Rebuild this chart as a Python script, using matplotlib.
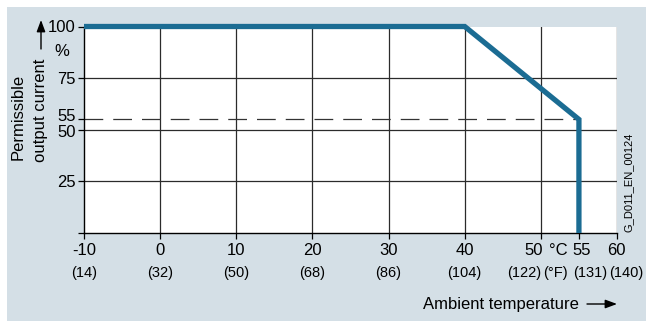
import matplotlib
matplotlib.use("Agg")
import matplotlib.pyplot as plt
from matplotlib.patches import Rectangle, FancyArrowPatch
import matplotlib.transforms as mtransforms

plt.rcParams['font.family'] = ['Liberation Sans', 'DejaVu Sans']

# Data
temps_c = [-10, 40, 55, 55]
current_pct = [100, 100, 55, 0]
reduced_level = 55
x_ticks = [-10, 0, 10, 20, 30, 40, 50, 55, 60]
x_labels = ['-10', '0', '10', '20', '30', '40', '50', '55', '60']
f_labels = ['(14)', '(32)', '(50)', '(68)', '(86)', '(104)', '(122)', '(131)', '(140)']
y_ticks = [0, 25, 50, 55, 75, 100]
y_labels = ['', '25', '50', '55', '75', '100']

W, H = 646, 321
fig = plt.figure(figsize=(W / 100, H / 100), dpi=100, facecolor='white')

def px(x, y):
    return x / W, 1 - y / H

# background panel
fig.patches.append(Rectangle(px(7, H), (W - 7) / W, (H - 7) / H, transform=fig.transFigure,
                             facecolor='#d4dfe6', edgecolor='none', zorder=-10))

left, right, top, bottom = 84, 617, 26.5, 233
ax = fig.add_axes([left / W, 1 - bottom / H, (right - left) / W, (bottom - top) / H])
ax.set_zorder(1)
ax.set_facecolor('white')
ax.set_xlim(-10, 60)
ax.set_ylim(0, 100)

gcol = '#2b2b2b'
for xv in [0, 10, 20, 30, 40, 50, 60]:
    ax.axvline(xv, color=gcol, lw=0.9, zorder=1)
for yv in [25, 50, 75]:
    ax.axhline(yv, color=gcol, lw=0.9, zorder=1)

ax.plot([-10, 55], [reduced_level, reduced_level], color='#333333', lw=0.9,
        dashes=(15, 8), zorder=2)
ax.plot(temps_c, current_pct, color='#1b6c93', lw=3.8, solid_joinstyle='miter',
        solid_capstyle='butt', clip_on=False, zorder=3)

for s in ['top', 'right']:
    ax.spines[s].set_visible(False)
for s in ['left', 'bottom']:
    ax.spines[s].set_color('black')
    ax.spines[s].set_linewidth(1.0)

ax.set_yticks(y_ticks)
ax.set_yticklabels(y_labels, fontsize=12)
ax.tick_params(axis='y', length=4, width=0.9, pad=2, color='black')
ylab_shift = {'55': 4 * 0.72, '50': -1 * 0.72}
for lab in ax.get_yticklabels():
    d = ylab_shift.get(lab.get_text(), 0)
    if d:
        lab.set_transform(lab.get_transform() +
                          mtransforms.ScaledTranslation(0, d / 72, fig.dpi_scale_trans))
ax.set_xticks(x_ticks)
ax.set_xticklabels([])
ax.tick_params(axis='x', length=4, width=0.9, color='black')

trans = mtransforms.blended_transform_factory(ax.transData, ax.transAxes)
row1 = (bottom - 255) / (bottom - top)
row2 = (bottom - 277.5) / (bottom - top)
pos1 = {50: 49.1, 55: 55.4, 60: 59.9}
for xv, lab in zip(x_ticks, x_labels):
    ax.text(pos1.get(xv, xv), row1, lab, transform=trans, ha='center', va='baseline', fontsize=12)
ax.text(52.25, row1, '°C', transform=trans, ha='center', va='baseline', fontsize=12)
pos2 = {50: 47.8, 55: 56.45, 60: 61.2}
for xv, lab in zip(x_ticks, f_labels):
    ax.text(pos2.get(xv, xv), row2, lab, transform=trans, ha='center', va='baseline', fontsize=10.5)
ax.text(51.86, row2, '(°F)', transform=trans, ha='center', va='baseline', fontsize=10.5)

# y axis title
fig.text(*px(18, 117), 'Permissible', rotation=90, ha='center', va='center', fontsize=12)
fig.text(*px(41, 110), 'output current', rotation=90, ha='center', va='center', fontsize=12)
fig.text(*px(62, 51), '%', ha='center', va='center', fontsize=12)
fig.add_artist(FancyArrowPatch(px(41, 49), px(41, 20), transform=fig.transFigure,
               arrowstyle='-|>,head_length=7,head_width=2.6', color='black', lw=1.0,
               shrinkA=0, shrinkB=0))

# x axis title
fig.text(*px(501, 308.5), 'Ambient temperature', ha='center', va='baseline', fontsize=12)
fig.add_artist(FancyArrowPatch(px(587, 304), px(617, 304), transform=fig.transFigure,
               arrowstyle='-|>,head_length=7,head_width=2.6', color='black', lw=1.0,
               shrinkA=0, shrinkB=0))

fig.text(*px(629, 182), 'G_D011_EN_00124', rotation=90, ha='center', va='center', fontsize=8)

fig.savefig('out.png', dpi=100, facecolor='white')
